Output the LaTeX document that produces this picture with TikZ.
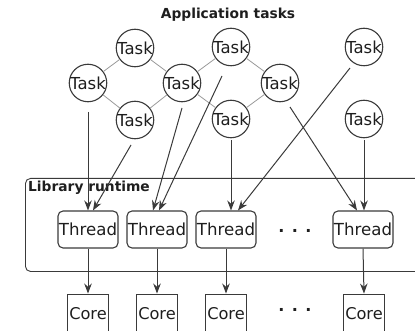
\documentclass[tikz,border=0pt]{standalone}
\usepackage{fontspec}
\setmainfont{DejaVu Sans}
\usetikzlibrary{arrows.meta,calc}
\definecolor{ink}{HTML}{1E1E1E}
\definecolor{edge}{HTML}{3A3A3A}
\definecolor{dep}{HTML}{9A9A9A}
\newcommand{\tasklabel}{\makebox[0pt]{Task}}
\begin{document}
\begin{tikzpicture}[x=1pt,y=-1pt,
  task/.style={circle,draw=edge,line width=1.1pt,minimum size=37.5pt,inner sep=0pt,
    text=ink,font=\fontsize{16.5}{18}\selectfont},
  thread/.style={rectangle,rounded corners=5pt,draw=edge,line width=1.1pt,
    minimum width=60pt,minimum height=37pt,inner sep=0pt,text=ink,
    font=\fontsize{16.6}{18}\selectfont},
  core/.style={rectangle,draw=edge,line width=0.9pt,minimum width=41pt,
    minimum height=40pt,inner sep=0pt,text=ink,font=\fontsize{16.2}{18}\selectfont},
  deplink/.style={draw=dep,line width=0.8pt},
  arr/.style={draw=edge,line width=1pt,-{Stealth[length=10pt,width=7.5pt]}},
  dots/.style={text=ink,font=\bfseries\fontsize{16}{18}\selectfont,inner sep=0pt},
  heading/.style={text=ink,font=\bfseries\fontsize{13.8}{16}\selectfont,inner sep=0pt}]
\useasboundingbox (0,0) rectangle (415,331);
\clip (0,0) rectangle (415,331);

% title
\node[heading] (title) at (228,15) {Application tasks};

% application tasks
\node[task] (t1) at (135,48) {\tasklabel};
\node[task] (t2) at (231,47) {\tasklabel};
\node[task] (t3) at (364,47) {\tasklabel};
\node[task] (t4) at (88,83) {\tasklabel};
\node[task] (t5) at (182,83) {\tasklabel};
\node[task] (t6) at (280,83) {\tasklabel};
\node[task] (t7) at (135,120) {\tasklabel};
\node[task] (t8) at (231,119) {\tasklabel};
\node[task] (t9) at (364,119) {\tasklabel};

% dependencies between tasks
\path[deplink] (t4) -- (t1);
\path[deplink] (t1) -- (t5);
\path[deplink] (t4) -- (t7);
\path[deplink] (t7) -- (t5);
\path[deplink] (t5) -- (t2);
\path[deplink] (t2) -- (t6);
\path[deplink] (t5) -- (t8);
\path[deplink] (t8) -- (t6);

% library runtime container
\node[draw=edge,line width=0.9pt,rounded corners=5pt,minimum width=430pt,
  minimum height=93pt,anchor=north west,inner sep=0pt] (lib) at (25,178) {};
\node[heading,anchor=base west] (libname) at (28,192) {Library runtime};

% threads
\node[thread] (th1) at (88,229.5) {Thread};
\node[thread] (th2) at (157,229.5) {Thread};
\node[thread] (th3) at (226,229.5) {Thread};
\node[thread] (th4) at (363,229.5) {Thread};
\node[dots] (thdots) at (295,231) {. . .};

% cores
\node[core] (c1) at (88,314) {Core};
\node[core] (c2) at (157,314) {Core};
\node[core] (c3) at (226,314) {Core};
\node[core] (c4) at (364,314) {Core};
\node[dots] (cdots) at (295,310) {. . .};

% tasks mapped onto threads
\path[arr] ($(t4)+(0,29)$) -- ($(th1.north)+(0,0)$);
\path[arr] ($(t7)+(-4,25)$) -- ($(th1.north)+(5,0)$);
\path[arr] ($(t5)+(0,25)$) -- ($(th2.north)+(-4,0)$);
\path[arr] ($(t2)+(-9,29)$) -- ($(th2.north)+(2,0)$);
\path[arr] ($(t8)+(0,21)$) -- ($(th3.north)+(5,0)$);
\path[arr] ($(t3)+(-14,21)$) -- ($(th3.north)+(12,0)$);
\path[arr] ($(t6)+(10,24)$) -- ($(th4.north)+(-6,0)$);
\path[arr] ($(t9)+(0,21)$) -- ($(th4.north)+(1,0)$);

% threads running on cores
\path[arr] (th1.south) -- (c1.north);
\path[arr] (th2.south) -- (c2.north);
\path[arr] (th3.south) -- (c3.north);
\path[arr] (th4.south) -- (c4.north);
\end{tikzpicture}
\end{document}
